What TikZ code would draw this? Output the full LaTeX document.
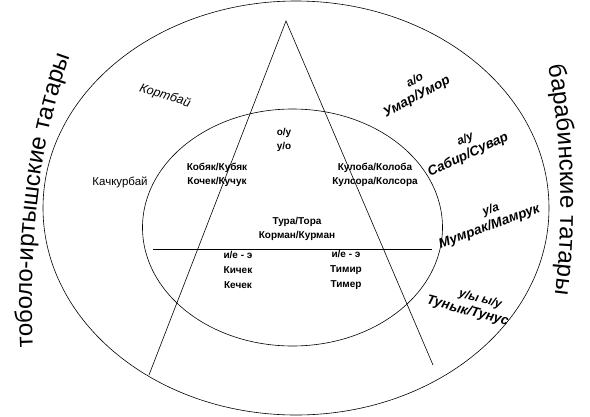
\documentclass[tikz,border=0pt]{standalone}
\usepackage{fontspec}
\setmainfont{Liberation Sans}
\usetikzlibrary{decorations.text}
\begin{document}
\begin{tikzpicture}[x=1pt,y=1pt,line width=0.6pt,
  lbl/.style={font=\fontsize{10}{14}\selectfont\bfseries,inner sep=0pt,align=center},
  lblb/.style={font=\fontsize{10}{15}\selectfont\bfseries,inner sep=0pt,align=center},
  ital/.style={font=\fontsize{13.5}{15.5}\selectfont\bfseries\itshape,inner sep=0pt,align=center},
  plain/.style={font=\fontsize{11.5}{12}\selectfont,inner sep=0pt}]
\useasboundingbox (0,0) rectangle (590,-416);
% ellipses
\draw (296,-208) ellipse [x radius=253, y radius=207];
\draw (292.5,-227.5) ellipse [x radius=150, y radius=118.5];
% triangle and horizontal line
\coordinate (apex) at (286,-21);
\coordinate (bl) at (149,-375);
\coordinate (br) at (433,-365);
\draw (bl) -- (apex) -- (br);
\coordinate (hl) at (153,-249);
\coordinate (hr) at (432,-249);
\draw (hl) -- (hr);
% inner labels
\node[lbl] (ou) at (284,-139.5) {о/у\\у/о};
\node[lbl] (kob) at (217,-175) {Кобяк/Кубяк\\Кочек/Кучук};
\node[lbl] (kul) at (375,-175) {Кулоба/Колоба\\Кулсора/Колсора};
\node[lbl] (tur) at (297,-229) {Тура/Тора\\Корман/Курман};
\node[lblb] (kich) at (238,-270) {и/е - э\\Кичек\\Кечек};
\node[lblb] (tim) at (346,-270) {и/е - э\\Тимир\\Тимер};
% left labels
\node[plain,font=\fontsize{12.5}{13}\selectfont\itshape,rotate=-18] (kort) at (165,-96) {Кортбай};
\node[plain] (kach) at (120,-182) {Качкурбай};
% right labels
\node[ital,rotate=28] (umar) at (413.5,-90.5)
  {\hspace*{12pt}{\fontsize{12}{17}\selectfont а/о}\\Умар/Умор};
\node[ital,rotate=25] (sab) at (465,-148.5)
  {\hspace*{8pt}{\fontsize{12}{15.5}\selectfont а/у}\\Сабир/Сувар};
\node[ital,rotate=20] (mum) at (487,-220)
  {\hspace*{14pt}{\fontsize{12}{13}\selectfont у/а}\\Мумрак/Мамрук};
\node[ital,rotate=-15] (tun) at (469.5,-304.5)
  {\hspace*{18pt}{\fontsize{12}{15.5}\selectfont у/ы ы/у}\\Тунык/Тунус};
% curved group names
\path[decorate,decoration={text along path,text align=center,
  text={|\fontsize{24}{24}\selectfont|тоболо-иртышские татары}}]
  (33,-352) .. controls (29,-260) and (35,-150) .. (72,-52);
\path[decorate,decoration={text along path,text align=center,
  text={|\fontsize{24}{24}\selectfont|барабинские татары}}]
  (545,-48) .. controls (562,-130) and (566,-230) .. (552,-312);
\end{tikzpicture}
\end{document}
